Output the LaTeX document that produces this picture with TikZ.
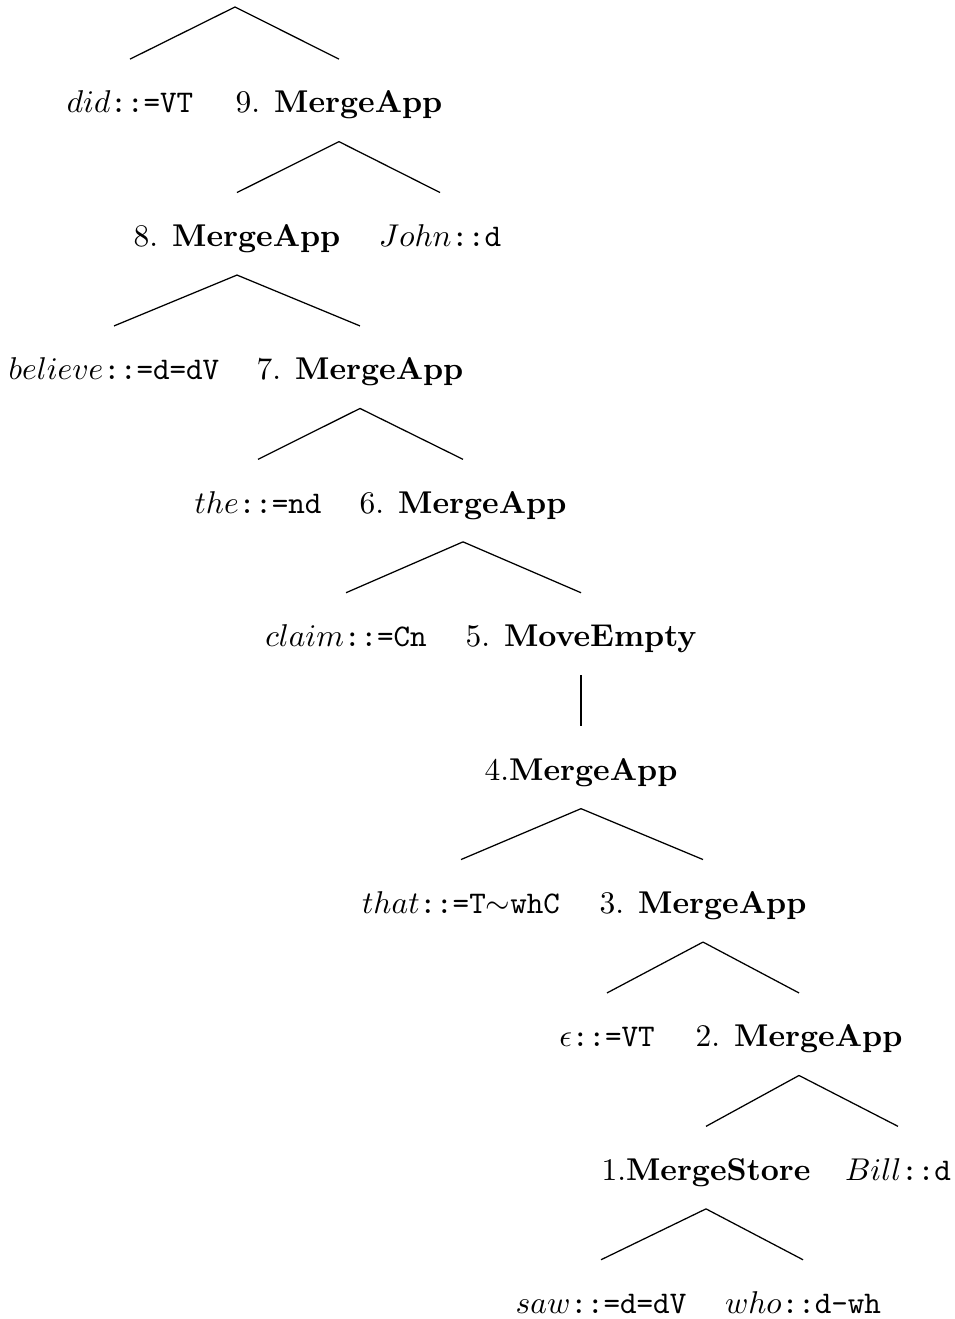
\documentclass[tikz,border=0pt]{standalone}
\usepackage{amsmath}
\usepackage{amssymb}
\usepackage{tikz}

\begin{document}
\begin{tikzpicture}[
    x=0.3175pt, y=-0.3175pt,
    item/.style={
        anchor=base,
        inner xsep=0pt,
        inner ysep=6.9pt,
        text height=10pt,
        text depth=2pt
    },
    branch/.style={draw=black, line width=0.4pt}
]
\useasboundingbox (0,0) rectangle (955,1319);

\coordinate (root) at (235,7);

\node[item] (did)     at (130,113)    {$did$\texttt{::=VT}};
\node[item] (m9)      at (339,113)    {9. \textbf{MergeApp}};

\node[item] (m8)      at (237,246.4)  {8. \textbf{MergeApp}};
\node[item] (john)    at (440,246.4)  {$John$\texttt{::d}};

\node[item] (believe) at (114,379.8)  {$believe$\texttt{::=d=dV}};
\node[item] (m7)      at (360,379.8)  {7. \textbf{MergeApp}};

\node[item] (the)     at (258,513.2)  {$the$\texttt{::=nd}};
\node[item] (m6)      at (463,513.2)  {6. \textbf{MergeApp}};

\node[item] (claim)   at (346,646.6)  {$claim$\texttt{::=Cn}};
\node[item] (m5)      at (581,646.6)  {5. \textbf{MoveEmpty}};

\node[item] (m4)      at (581,780)    {4.\textbf{MergeApp}};

\node[item] (that)    at (461,913.4)  {$that$\texttt{::=T}$\sim$\texttt{whC}};
\node[item] (m3)      at (703,913.4)  {3. \textbf{MergeApp}};

\node[item] (eps)     at (607,1046.8) {$\epsilon$\texttt{::=VT}};
\node[item] (m2)      at (799,1046.8) {2. \textbf{MergeApp}};

\node[item] (m1)      at (706,1180.2) {1.\textbf{MergeStore}};
\node[item] (bill)    at (898,1180.2) {$Bill$\texttt{::d}};

\node[item] (saw)     at (601,1313.6) {$saw$\texttt{::=d=dV}};
\node[item] (who)     at (803,1313.6) {$who$\texttt{::d-wh}};

% branches
\draw[branch] (root) -- (did.north);
\draw[branch] (root) -- (m9.north);
\foreach \p/\c in {m9/m8, m9/john, m8/believe, m8/m7, m7/the, m7/m6,
                   m6/claim, m6/m5, m5/m4, m4/that, m4/m3, m3/eps, m3/m2,
                   m2/m1, m2/bill, m1/saw, m1/who}
    \draw[branch] (\p.south) -- (\c.north);

\end{tikzpicture}
\end{document}
